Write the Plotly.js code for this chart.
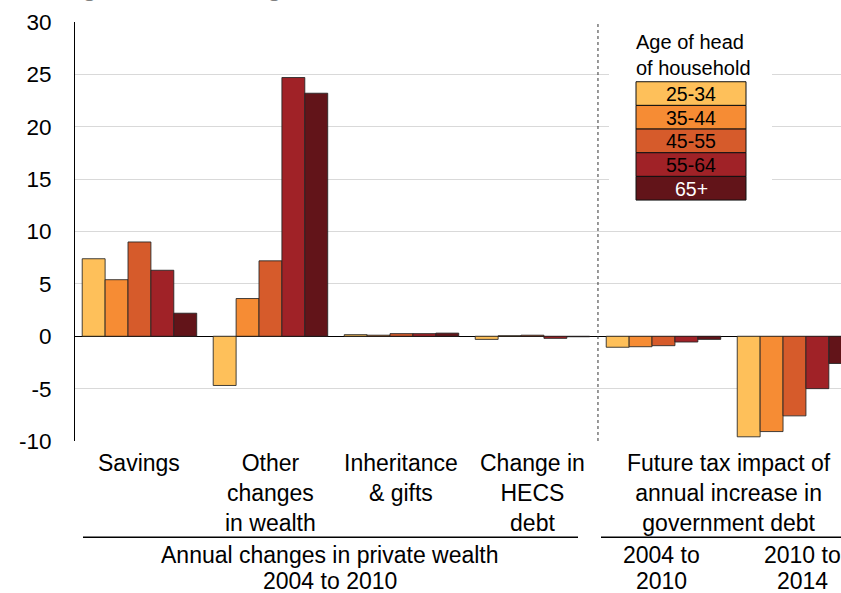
<!DOCTYPE html>
<html>
<head>
<meta charset="utf-8">
<script src="https://cdn.plot.ly/plotly-3.0.1.min.js"></script>
<style>html,body{margin:0;padding:0;background:#fff;overflow:hidden}#chart{width:841px;height:593px}</style>
</head>
<body>
<div id="chart"></div>
<script>
// ---- data ----
const categories = ['Savings', 'Other changes in wealth', 'Inheritance & gifts', 'Change in HECS debt', 'Future tax 2004 to 2010', 'Future tax 2010 to 2014'];
const categoryLabels = ['Savings', 'Other<br>changes<br>in wealth', 'Inheritance<br>& gifts', 'Change in<br>HECS<br>debt'];
const futureTaxLabel = 'Future tax impact of<br>annual increase in<br>government debt';
const groupLabelsTop = ['Annual changes in private wealth', '2004 to', '2010 to'];
const groupLabelsBottom = ['2004 to 2010', '2010', '2014'];
const ageGroups = ['25-34', '35-44', '45-55', '55-64', '65+'];
const age25_34 = [7.4, -4.7, 0.15, -0.3, -1.05, -9.6];
const age35_44 = [5.4, 3.6, 0.1, 0.05, -1.0, -9.1];
const age45_55 = [9.0, 7.2, 0.25, 0.1, -0.9, -7.6];
const age55_64 = [6.3, 24.7, 0.25, -0.2, -0.55, -5.0];
const age65plus = [2.2, 23.2, 0.3, -0.05, -0.3, -2.6];
const yTicks = [-10, -5, 0, 5, 10, 15, 20, 25, 30];
const legendTitle = 'Age of head<br>of household';
const subtitle = "Average annual change, $'000";

// ---- styling ----
const series = [age25_34, age35_44, age45_55, age55_64, age65plus];
const colors = ['#FEC05A', '#F68C34', '#D65B2B', '#A02227', '#621419'];
const legendTextColors = ['#000', '#000', '#000', '#000', '#fff'];
const FONT = 'Arial, "Liberation Sans", sans-serif';

const M = {l: 75, r: 0, t: 22, b: 152.3};
const W = 841, H = 593;
const PW = W - M.l - M.r, PH = H - M.t - M.b;
const px = p => (p - M.l) / PW;          // pixel x -> paper
const py = p => (M.t + PH - p) / PH;     // pixel y -> paper

const traces = series.map((vals, i) => ({
  type: 'bar',
  name: ageGroups[i],
  x: categories,
  y: vals,
  marker: {color: colors[i], line: {color: 'rgba(35,35,35,0.85)', width: 1}},
  showlegend: false,
  hoverinfo: 'y'
}));

const shapes = [];
const annotations = [];

// dashed separator between private wealth and future tax
shapes.push({type: 'line', xref: 'x', yref: 'y', x0: 3.5, x1: 3.5, y0: -10, y1: 30,
  line: {color: '#333', width: 1, dash: '3px,3px'}});

// bottom group separator lines
shapes.push({type: 'line', xref: 'paper', yref: 'paper', x0: px(83), x1: px(578), y0: py(537), y1: py(537),
  line: {color: '#000', width: 1.5}});
shapes.push({type: 'line', xref: 'paper', yref: 'paper', x0: px(601), x1: 1.02, y0: py(537), y1: py(537),
  line: {color: '#000', width: 1.5}});

// legend white background
shapes.push({type: 'rect', xref: 'paper', yref: 'paper', x0: px(609), x1: px(772), y0: py(215), y1: py(28),
  fillcolor: '#fff', line: {width: 0}, layer: 'above'});

// legend entries
const rowTop = 81.7, rowH = 23.65;
ageGroups.forEach((g, i) => {
  const t = rowTop + i * rowH, b = t + rowH;
  shapes.push({type: 'rect', xref: 'paper', yref: 'paper', x0: px(636), x1: px(746), y0: py(b), y1: py(t),
    fillcolor: colors[i], line: {color: '#111', width: 1}, layer: 'above'});
  annotations.push({xref: 'paper', yref: 'paper', x: px(691), y: py((t + b) / 2 + 0.5), text: g,
    showarrow: false, xanchor: 'center', yanchor: 'middle',
    font: {family: FONT, size: 19.5, color: legendTextColors[i]}});
});
annotations.push({xref: 'paper', yref: 'paper', x: px(634), y: py(29), text: legendTitle, align: 'left',
  showarrow: false, xanchor: 'left', yanchor: 'top', font: {family: FONT, size: 20, color: '#000'}});

// category labels
categoryLabels.forEach((lbl, i) => {
  annotations.push({xref: 'x', yref: 'paper', x: i, y: py(448), text: lbl, showarrow: false,
    xanchor: 'center', yanchor: 'top', align: 'center', font: {family: FONT, size: 23, color: '#000'}});
});
annotations.push({xref: 'x', yref: 'paper', x: 4.5, y: py(448), text: futureTaxLabel, showarrow: false,
  xanchor: 'center', yanchor: 'top', align: 'center', font: {family: FONT, size: 23, color: '#000'}});

// group labels (two separate lines)
const groupX = [px(330), px(661), px(802)];
groupLabelsTop.forEach((lbl, i) => {
  annotations.push({xref: 'paper', yref: 'paper', x: groupX[i], y: py(555), text: lbl, showarrow: false,
    xanchor: 'center', yanchor: 'middle', font: {family: FONT, size: 23, color: '#000'}});
});
groupLabelsBottom.forEach((lbl, i) => {
  annotations.push({xref: 'paper', yref: 'paper', x: groupX[i], y: py(580.5), text: lbl, showarrow: false,
    xanchor: 'center', yanchor: 'middle', font: {family: FONT, size: 23, color: '#000'}});
});

// clipped subtitle at top
annotations.push({xref: 'paper', yref: 'paper', x: px(10), y: py(-14), text: subtitle, showarrow: false,
  xanchor: 'left', yanchor: 'middle', font: {family: FONT, size: 27, color: '#808080'}});

const layout = {
  width: W, height: H,
  margin: M,
  paper_bgcolor: '#fff', plot_bgcolor: '#fff',
  barmode: 'group', bargap: 0.126, bargroupgap: 0,
  showlegend: false,
  xaxis: {type: 'category', range: [-0.492, 5.355], showticklabels: false, ticks: '',
    showgrid: false, zeroline: false, showline: false, fixedrange: true},
  yaxis: {range: [-10, 30], tickvals: yTicks, ticktext: yTicks.map(String), ticks: '',
    showgrid: true, gridcolor: '#d9d9d9', gridwidth: 1,
    zeroline: true, zerolinecolor: '#000', zerolinewidth: 1.3,
    showline: true, linecolor: '#000', linewidth: 1,
    ticklabelstandoff: 18,
    tickfont: {family: FONT, size: 22.5, color: '#000'}, fixedrange: true},
  shapes: shapes,
  annotations: annotations
};

Plotly.newPlot('chart', traces, layout, {displayModeBar: false, staticPlot: true});
</script>
</body>
</html>
